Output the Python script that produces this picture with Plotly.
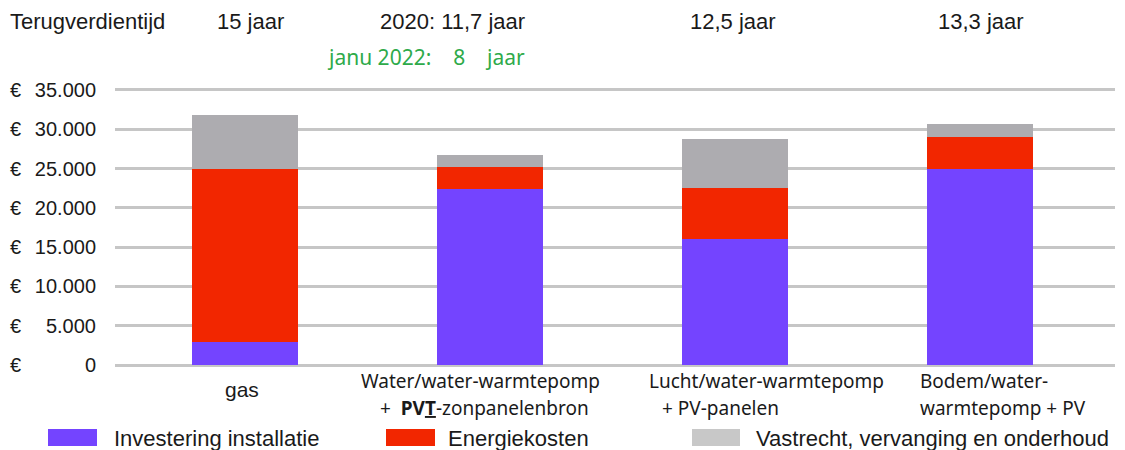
import plotly.graph_objects as go

# ---- data ----
categories = ["gas", "Water/water-warmtepomp", "Lucht/water-warmtepomp", "Bodem/water-warmtepomp + PV"]
cat_line1 = ["gas", "Water/water-warmtepomp", "Lucht/water-warmtepomp", "Bodem/water-"]
cat_line2 = ["", "+  <b>PV<u>T</u></b>-zonpanelenbron", "+ PV-panelen", "warmtepomp + PV"]
series_names = ["Investering installatie", "Energiekosten", "Vastrecht, vervanging en onderhoud"]
investering = [2900, 22400, 16000, 25000]
energiekosten = [22100, 2800, 6500, 4000]
vastrecht = [6800, 1500, 6300, 1700]
tick_vals = [0, 5000, 10000, 15000, 20000, 25000, 30000, 35000]
tick_text = ["0", "5.000", "10.000", "15.000", "20.000", "25.000", "30.000", "35.000"]
payback_title = "Terugverdientijd"
payback_texts = ["15 jaar", "2020: 11,7 jaar", "12,5 jaar", "13,3 jaar"]
payback_note = "janu 2022:\u00a0\u00a0\u00a0 8 \u00a0\u00a0\u00a0jaar"

bar_colors = ["#7444FF", "#F22600", "#ADACB0"]
legend_colors = ["#7444FF", "#F22600", "#C8C8C8"]

# page body has an 8px margin: figure is drawn from (8,8)
OFF = 8
W, H = 1125 - OFF, 450 - OFF
PL, PR, PT, PB = 115, 1115, 88, 367          # plot edges in screenshot pixels
ML, MR, MT, MB = PL - OFF, 1125 - PR, PT - OFF, 450 - PB
PW, PH = PR - PL, PB - PT

def px_x(p):
    return (p - PL) / PW

def px_y(p):
    return (PB - p) / PH

TXT = "#1a1a1a"
ARIAL = "Liberation Sans, Arial"

xs = list(range(len(categories)))
fig = go.Figure()
for name, vals, col in zip(series_names, [investering, energiekosten, vastrecht], bar_colors):
    fig.add_trace(go.Bar(x=xs, y=vals, name=name, marker=dict(color=col, line=dict(width=0)),
                         width=0.43, showlegend=False))

ann = []
# euro signs in front of the tick labels
for v in tick_vals:
    ann.append(dict(text="€", x=px_x(8), xref="paper", xanchor="left", y=v, yref="y",
                    yanchor="middle", showarrow=False, font=dict(family=ARIAL, size=20, color=TXT)))

# category labels
ann.append(dict(text=cat_line1[0], x=px_x(242), xref="paper", xanchor="center", y=px_y(389), yref="paper",
                yanchor="middle", showarrow=False, font=dict(family=ARIAL, size=21, color=TXT)))
l1_pos = [None, (480, "center"), (647, "left"), (918, "left")]
l2_pos = [None, (484, "center"), (660, "left"), (918, "left")]
for i in range(1, len(categories)):
    for txt, pos, yy in [(cat_line1[i], l1_pos[i], 381), (cat_line2[i], l2_pos[i], 408)]:
        ann.append(dict(text=txt, x=px_x(pos[0]), xref="paper", xanchor=pos[1], y=px_y(yy), yref="paper",
                        yanchor="middle", showarrow=False, font=dict(family="Noto Sans", size=19, color=TXT)))

# payback row
ann.append(dict(text=payback_title, x=px_x(8), xref="paper", xanchor="left", y=px_y(21), yref="paper",
                yanchor="middle", showarrow=False, font=dict(family=ARIAL, size=22, color=TXT)))
pay_pos = [(250, "center"), (527, "right"), (733, "center"), (981, "center")]
for t, (px, al) in zip(payback_texts, pay_pos):
    ann.append(dict(text=t, x=px_x(px), xref="paper", xanchor=al, y=px_y(21), yref="paper",
                    yanchor="middle", showarrow=False, font=dict(family=ARIAL, size=22, color=TXT)))
ann.append(dict(text=payback_note, x=px_x(527), xref="paper", xanchor="right", y=px_y(57), yref="paper",
                yanchor="middle", showarrow=False, font=dict(family="Noto Sans", size=21, color="#2EAA4A")))

# legend row
shapes = []
leg_sw = [(48, 97), (386, 435), (692, 740)]
leg_tx = [112, 446, 754]
for name, col, (x0, x1), tx in zip(series_names, legend_colors, leg_sw, leg_tx):
    shapes.append(dict(type="rect", xref="paper", yref="paper", x0=px_x(x0), x1=px_x(x1),
                       y0=px_y(446), y1=px_y(429), fillcolor=col, line=dict(width=0)))
    ann.append(dict(text=name, x=px_x(tx), xref="paper", xanchor="left", y=px_y(438), yref="paper",
                    yanchor="middle", showarrow=False, font=dict(family=ARIAL, size=22, color=TXT)))

fig.update_layout(
    barmode="stack",
    width=W, height=H,
    margin=dict(l=ML, r=MR, t=MT, b=MB, pad=0),
    plot_bgcolor="white", paper_bgcolor="white",
    annotations=ann, shapes=shapes,
    xaxis=dict(range=[-0.531, 3.551], showticklabels=False, showgrid=False, zeroline=False,
               showline=False, ticks=""),
    yaxis=dict(range=[-250, 35250], tickvals=tick_vals, ticktext=tick_text, showgrid=True,
               gridcolor="#C6C6C6", gridwidth=2.5, zeroline=False, showline=False, ticks="",
               ticklabelstandoff=18,
               tickfont=dict(family=ARIAL, size=20, color=TXT)),
)

fig.write_html("out.html")
